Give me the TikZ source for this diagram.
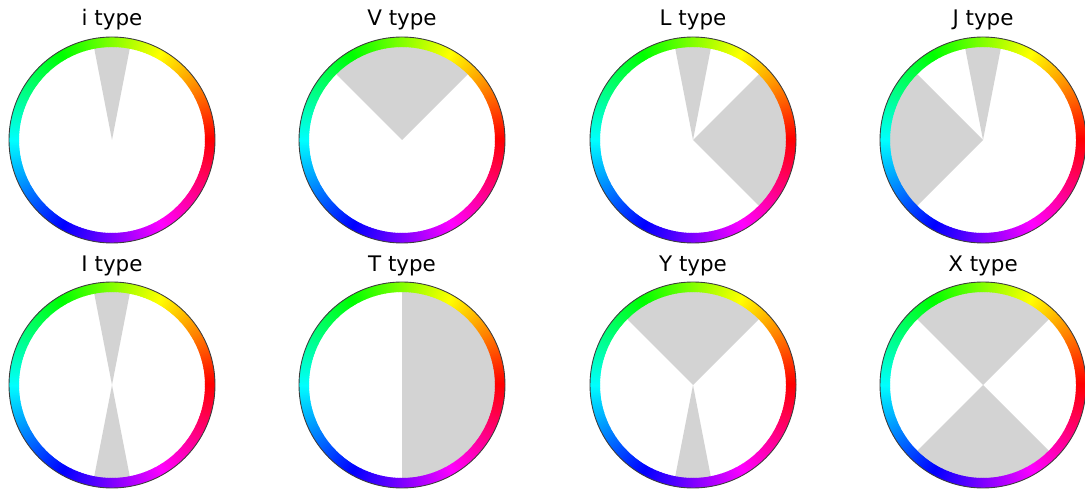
\documentclass[tikz,border=0pt]{standalone}
\usepackage{fontspec}
\setmainfont{DejaVu Sans}
\definecolor{wedgegray}{RGB}{211,211,211}
\definecolor{rimgray}{RGB}{60,60,60}

\tikzset{
  sector/.style={fill=wedgegray},
  rim/.style={draw=rimgray, line width=0.5pt},
  title/.style={anchor=base, font=\fontsize{12.2}{14}\selectfont},
  pics/wheel/.style={code={
    % grey sectors first, the hue ring covers their outer edge
    \foreach \s/\e in {#1}{
      \fill[sector] (0,0) -- (\s:96) arc[start angle=\s, end angle=\e, radius=96] -- cycle;
    }
    \foreach \a in {0,...,359}{
      \definecolor{huecol}{Hsb}{\a,1,1}
      \fill[huecol] (\a:93) arc[start angle=\a, end angle=\a+1.4, radius=93]
        -- (\a+1.4:103) arc[start angle=\a+1.4, end angle=\a, radius=103] -- cycle;
    }
    \draw[rim] (0,0) circle[radius=103];
  }}
}

\begin{document}
\begin{tikzpicture}[x=0.02cm, y=0.02cm]
\useasboundingbox (0,0) rectangle (1085,490);

\pic at (112,350) {wheel={79/101}};
\pic at (402,350) {wheel={45/135}};
\pic at (693,350) {wheel={79/101,-45/45}};
\pic at (983,350) {wheel={79/101,135/225}};

\pic at (112,105) {wheel={79/101,259/281}};
\pic at (402,105) {wheel={-90/90}};
\pic at (693,105) {wheel={45/135,259/281}};
\pic at (983,105) {wheel={45/135,225/315}};

\node[title] (ti) at (112,464) {i type};
\node[title] (tv) at (402,464) {V type};
\node[title] (tl) at (693,464) {L type};
\node[title] (tj) at (983,464) {J type};

\node[title] (tii) at (112,218) {I type};
\node[title] (tt) at (402,218) {T type};
\node[title] (ty) at (693,218) {Y type};
\node[title] (tx) at (983,218) {X type};
\end{tikzpicture}
\end{document}
